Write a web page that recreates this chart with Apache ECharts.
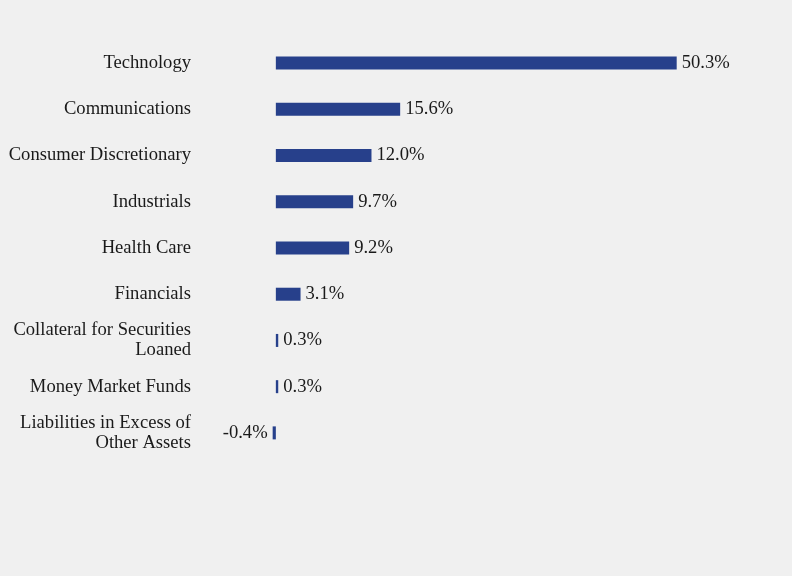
<!DOCTYPE html>
<html>
<head>
<meta charset="utf-8">
<script src="https://cdn.jsdelivr.net/npm/echarts@6/dist/echarts.min.js"></script>
<style>
  html, body { margin: 0; padding: 0; background: #f0f0f0; }
  #chart { width: 792px; height: 576px; }
</style>
</head>
<body>
<div id="chart"></div>
<script>
// sectors, top to bottom
const sectors = [
  'Technology',
  'Communications',
  'Consumer Discretionary',
  'Industrials',
  'Health Care',
  'Financials',
  'Collateral for Securities\nLoaned',
  'Money Market Funds',
  'Liabilities in Excess of\nOther Assets'
];
// % of net assets
const weights = [50.3, 15.6, 12.0, 9.7, 9.2, 3.1, 0.3, 0.3, -0.4];

const myChart = echarts.init(document.getElementById('chart'));

const barData = weights.map(v => ({
  value: v,
  label: { position: v < 0 ? 'left' : 'right' }
}));

myChart.setOption({
  backgroundColor: '#f0f0f0',
  animation: false,
  textStyle: { fontFamily: '"Liberation Serif", "Times New Roman", serif' },
  grid: { left: 236, top: 40, width: 518, height: 416 },
  xAxis: {
    type: 'value',
    min: -5,
    max: 60,
    show: false
  },
  yAxis: {
    type: 'category',
    inverse: true,
    data: sectors,
    axisLine: { show: false },
    axisTick: { show: false },
    splitLine: { show: false },
    axisLabel: {
      margin: 45,
      fontSize: 18.6,
      lineHeight: 20,
      padding: [4, 0, 0, 0],
      color: '#1a1a1a',
      fontFamily: '"Liberation Serif", "Times New Roman", serif'
    }
  },
  series: [{
    type: 'bar',
    data: barData,
    barWidth: 13,
    itemStyle: { color: '#27408b' },
    label: {
      show: true,
      distance: 5,
      fontSize: 18.6,
      padding: [4, 0, 0, 0],
      color: '#1a1a1a',
      fontFamily: '"Liberation Serif", "Times New Roman", serif',
      formatter: p => p.value.toFixed(1) + '%'
    }
  }]
});
</script>
</body>
</html>
